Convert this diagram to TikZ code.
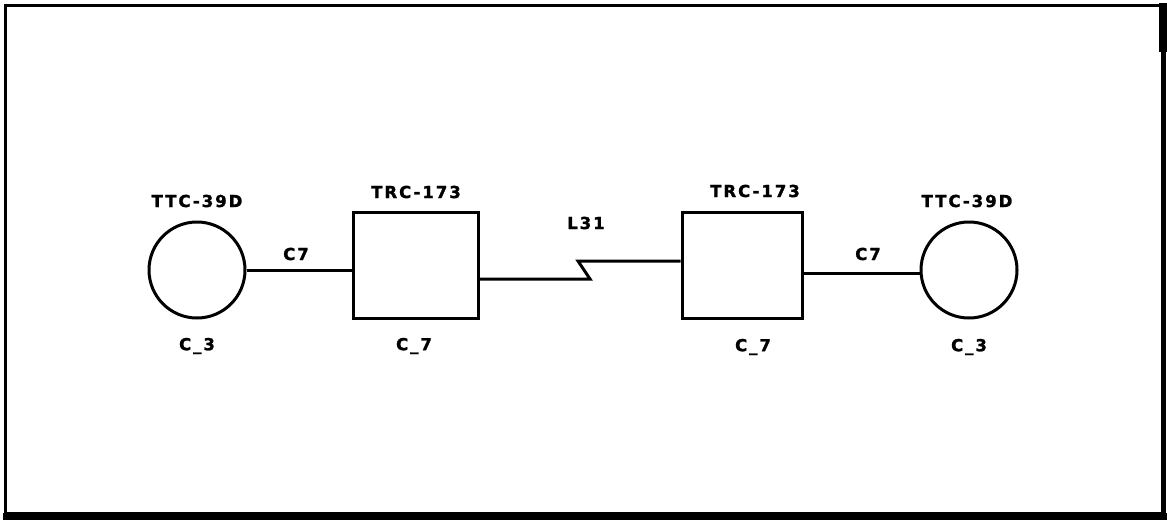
\documentclass[tikz,border=0pt]{standalone}
\usepackage{fontspec}
\newfontfamily\lblfont{DejaVu Sans}[LetterSpace=12, BoldFeatures={FakeBold=1.5}]
\usepackage{tikz}
\usetikzlibrary{calc}

\begin{document}
\begin{tikzpicture}[x=1pt, y=-1pt, line width=3pt,
		every node/.style={font=\lblfont\bfseries\fontsize{16.5}{18}\selectfont, inner sep=0pt},
		term/.style={circle, draw, minimum size=96pt},
		unit/.style={rectangle, draw, minimum width=#1, minimum height=106pt}]
	\useasboundingbox (0,0) rectangle (1167,523);
	% frame
	\draw[line width=3.5pt] (5.5,5.5) rectangle (1163,514);
	\draw[line width=7pt] (3,516) -- (1167,516);
	\draw[line width=4.5pt] (1164,514) -- (1164,3);
	\draw[line width=8pt] (1163,3) -- (1163,52);

	% terminals and units
	\node[term] (tccl) at (197,270) {};
	\node[unit=125pt] (trcl) at (415.5,265) {};
	\node[unit=120pt] (trcr) at (742,265.5) {};
	\node[term] (tccr) at (969,270) {};

	% links
	\coordinate (zz1) at (590,279);
	\coordinate (zz2) at (578,261);
	\draw (tccl.east) -- (tccl.east -| trcl.west);
	\draw (trcl.east |- zz1) -- (zz1) -- (zz2) -- (zz2 -| trcr.west);
	\draw (trcr.east |- 0,273) -- (tccr.west |- 0,273);

	% labels
	\node (ltccl) at (197,201) {TTC-39D};
	\node (ltrcl) at (416,192) {TRC-173};
	\node (ltrcr) at (755,191) {TRC-173};
	\node (ltccr) at (967,201) {TTC-39D};
	\node (lc7l) at (296,254) {C7};
	\node (lls) at (586,223) {L31};
	\node (lc7r) at (868,254) {C7};
	\node (lcl) at (197,346) {C\_3};
	\node (lcul) at (414,346) {C\_7};
	\node (lcur) at (753,347) {C\_7};
	\node (lcr) at (969,347) {C\_3};
\end{tikzpicture}
\end{document}
